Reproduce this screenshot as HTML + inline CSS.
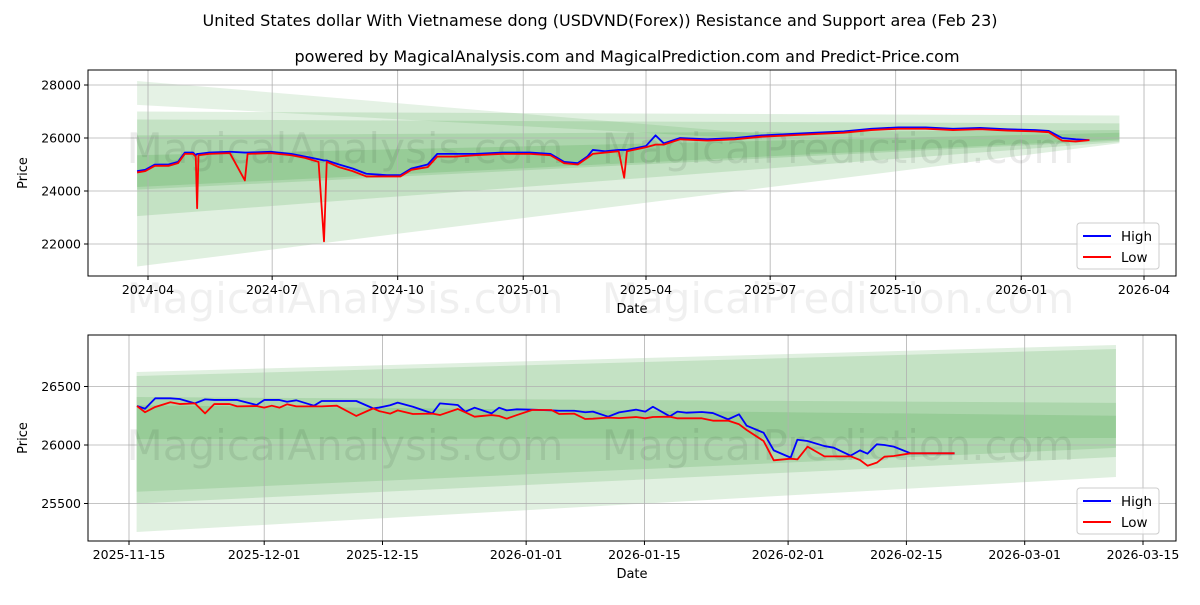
<!DOCTYPE html>
<html><head><meta charset="utf-8"><style>
body{margin:0;background:#fff;font-family:"Liberation Sans","DejaVu Sans",sans-serif}
svg text{font-family:"DejaVu Sans","Liberation Sans",sans-serif}
</style></head><body>
<svg id="s" width="1200" height="600" viewBox="0 0 1200 600" xmlns="http://www.w3.org/2000/svg">
<rect width="1200" height="600" fill="#fff"/>
<text x="600" y="26" text-anchor="middle" font-size="16" fill="#000">United States dollar With Vietnamese dong (USDVND(Forex)) Resistance and Support area (Feb 23)</text>
<text x="627" y="62" text-anchor="middle" font-size="16" fill="#000">powered by MagicalAnalysis.com and MagicalPrediction.com and Predict-Price.com</text>
<g id="top"></g><g id="bot"></g>
</svg>
<script>
// ---- top chart data (day offset from 2024-04-01) ----
const topDays=[-8,-2,5,15,22,27,33,35,36,37,45,60,71,73,90,105,115,125,129,131,140,150,160,175,185,193,205,212,225,240,260,280,295,305,315,322,326,335,345,349,351,365,372,378,390,410,430,450,470,490,510,530,550,570,590,610,630,650,660,670,680,690];
const topHigh=[24750,24800,25000,25000,25100,25450,25450,25350,25400,25400,25450,25480,25450,25450,25480,25400,25300,25200,25150,25150,25000,24850,24650,24600,24600,24850,25000,25400,25400,25400,25450,25450,25400,25100,25050,25300,25550,25500,25550,25550,25550,25700,26100,25800,26000,25950,26000,26100,26150,26200,26250,26350,26400,26400,26350,26380,26330,26300,26270,26000,25950,25920];
const topLow=[24700,24750,24950,24950,25050,25400,25400,25300,23350,25350,25400,25430,24400,25400,25430,25350,25250,25100,22100,25100,24900,24750,24550,24550,24550,24800,24900,25300,25300,25350,25400,25400,25350,25050,25000,25250,25400,25450,25500,24500,25500,25650,25750,25750,25950,25900,25950,26050,26100,26150,26200,26300,26350,26350,26300,26330,26280,26250,26220,25900,25870,25920];
const topTickLabels=["2024-04","2024-07","2024-10","2025-01","2025-04","2025-07","2025-10","2026-01","2026-04"];
const topTickDays=[0,91,183,275,365,456,548,640,730];
const topYTicks=[22000,24000,26000,28000];
// bands: [leftTop,leftBottom,rightTop,rightBottom,rightDay]
const topBands=[[28150,27250,26150,25950,450],[27000,21150,26850,25800,712],[26700,23050,26550,25850,712],[26100,24050,26300,25900,712],[25350,24150,26200,25950,712]];
// ---- bottom chart data (day offset from 2025-11-15) ----
const botDays=[0.95,1.9,3.1,4.9,6.0,7.8,9.0,10.1,11.9,12.8,15.1,16.0,16.9,17.8,18.7,19.8,21.9,22.8,24.6,26.9,28.9,29.6,30.9,31.8,33.6,35.9,36.8,38.9,39.8,40.9,42.9,43.8,44.7,45.9,47.7,50.0,50.9,52.7,54.0,54.9,56.7,58.0,60.0,61.1,62.0,64.0,64.9,66.0,67.8,69.1,70.9,72.2,73.1,75.1,76.3,78.3,79.1,80.3,82.3,83.4,85.4,86.5,87.4,88.5,89.4,90.5,92.5,97.7];
const botHigh=[26333,26310,26399,26399,26393,26356,26390,26385,26385,26385,26342,26385,26385,26385,26370,26382,26336,26376,26376,26376,26313,26320,26340,26362,26327,26270,26356,26342,26285,26319,26270,26319,26296,26305,26302,26296,26293,26293,26280,26285,26242,26279,26302,26285,26327,26245,26285,26276,26282,26273,26219,26262,26165,26105,25954,25892,26045,26034,25991,25977,25909,25954,25926,26006,26000,25986,25929,25929];
const botLow=[26333,26280,26325,26365,26350,26356,26270,26350,26350,26330,26333,26319,26336,26319,26348,26330,26330,26330,26336,26248,26313,26290,26268,26296,26265,26268,26256,26308,26279,26242,26256,26248,26225,26256,26299,26299,26265,26268,26222,26225,26234,26230,26239,26228,26239,26242,26228,26228,26228,26208,26208,26177,26128,26034,25869,25883,25877,25986,25903,25903,25903,25872,25823,25849,25900,25906,25929,25929];
const botTickLabels=["2025-11-15","2025-12-01","2025-12-15","2026-01-01","2026-01-15","2026-02-01","2026-02-15","2026-03-01","2026-03-15"];
const botTickDays=[0,16,30,47,61,78,92,106,120];
const botYTicks=[25500,26000,26500];
const botBands=[[26624,25256,26855,25726,116.8],[26590,25500,26820,25897,116.8],[26410,25600,26360,25975,116.8],[26340,26050,26250,26060,116.8]];

const NS="http://www.w3.org/2000/svg";
function mk(p,t,a){const e=document.createElementNS(NS,t);for(const k in a)e.setAttribute(k,a[k]);p.appendChild(e);return e;}
function chart(g,o){
  const X=d=>o.x0+(d-o.d0)*o.xs, Y=v=>o.y0-(v-o.v0)*o.ys;
  const L=88,R=1176,T=o.top,B=o.bottom;
  const bl=o.bandL;
  o.bands.forEach((b,i)=>{const br=b[4];const p=mk(g,'polygon',{points:`${X(bl)},${Y(b[0])} ${X(br)},${Y(b[2])} ${X(br)},${Y(b[3])} ${X(bl)},${Y(b[1])}`,fill:'green','fill-opacity':i==0&&o.sepTop?0.1:0.12});
    
    });
  o.tickDays.forEach((d,i)=>{const x=X(d);mk(g,'line',{x1:x,x2:x,y1:T,y2:B,stroke:'#b0b0b0','stroke-width':0.8});
    mk(g,'line',{x1:x,x2:x,y1:B,y2:B+4,stroke:'#000'});
    const t=mk(g,'text',{x:x,y:B+18,'text-anchor':'middle','font-size':12.5});t.textContent=o.tickLabels[i];
    
    });
  o.yTicks.forEach(v=>{const y=Y(v);mk(g,'line',{x1:L,x2:R,y1:y,y2:y,stroke:'#b0b0b0','stroke-width':0.8});
    mk(g,'line',{x1:L-4,x2:L,y1:y,y2:y,stroke:'#000'});
    const t=mk(g,'text',{x:L-7,y:y+4.5,'text-anchor':'end','font-size':12.5});t.textContent=v;
    
    });
  [[345,o.wm],[838,o.wm]].forEach((w,i)=>{const t=mk(g,'text',{x:w[0],y:w[1],'text-anchor':'middle','font-size':42,fill:'#000','fill-opacity':0.08});t.textContent=i?'MagicalPrediction.com':'MagicalAnalysis.com';
    
    });
  const line=(arr,c,n)=>{const p=mk(g,'polyline',{points:o.days.map((d,i)=>X(d)+','+Y(arr[i])).join(' '),fill:'none',stroke:c,'stroke-width':1.8,'stroke-linejoin':'round'});
    
    };
  line(o.high,'#0000ff','high-line');line(o.low,'#ff0000','low-line');
  mk(g,'rect',{x:L,y:T,width:R-L,height:B-T,fill:'none',stroke:'#000','stroke-width':1});
  const xl=mk(g,'text',{x:632,y:B+37,'text-anchor':'middle','font-size':13});xl.textContent='Date';
  
  
  const yl=mk(g,'text',{x:27,y:(T+B)/2,'text-anchor':'middle','font-size':13,transform:`rotate(-90 27 ${(T+B)/2})`});yl.textContent='Price';
  
  
  const lg=mk(g,'g',{});
  
  
  mk(lg,'rect',{x:1077,y:B-53,width:82,height:46,rx:3,fill:'#fff','fill-opacity':0.8,stroke:'#ccc'});
  [['High','#0000ff',B-40],['Low','#ff0000',B-19]].forEach(e=>{mk(lg,'line',{x1:1083,x2:1111,y1:e[2],y2:e[2],stroke:e[1],'stroke-width':2});
    const t=mk(lg,'text',{x:1121,y:e[2]+5,'font-size':13.5});t.textContent=e[0];
    
    });
}
chart(document.getElementById('top'),{x0:148,d0:0,xs:1.3644,y0:138,v0:26000,ys:0.0265,top:70,bottom:276,
  bands:topBands,bandL:-8,sepTop:true,tickDays:topTickDays,tickLabels:topTickLabels,yTicks:topYTicks,
  wm:163,days:topDays,high:topHigh,low:topLow});
chart(document.getElementById('bot'),{x0:129,d0:0,xs:8.45,y0:445,v0:26000,ys:0.117,top:335,bottom:541,
  bands:botBands,bandL:0.9,sepTop:false,tickDays:botTickDays,tickLabels:botTickLabels,yTicks:botYTicks,
  wm:460,days:botDays,high:botHigh,low:botLow});
const g=document.getElementById('top');
[[345,'MagicalAnalysis.com'],[838,'MagicalPrediction.com']].forEach(w=>{const t=mk(g,'text',{x:w[0],y:313,'text-anchor':'middle','font-size':42,fill:'#000','fill-opacity':0.06});t.textContent=w[1];
  
  });
</script>
</body></html>
